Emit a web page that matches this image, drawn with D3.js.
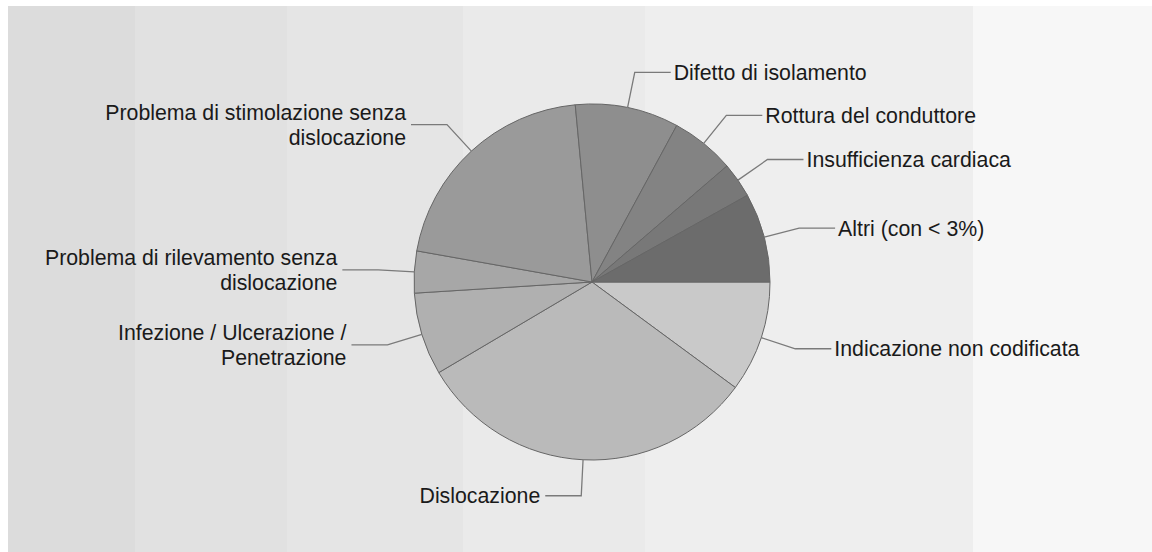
<!DOCTYPE html>
<html>
<head>
<meta charset="utf-8">
<script src="https://cdn.jsdelivr.net/npm/d3@7"></script>
<style>
  html, body { margin: 0; padding: 0; background: #fff; }
  svg { display: block; }
</style>
</head>
<body>
<div id="chart"></div>
<script>
// categories, clockwise from 3 o'clock
const categories = [
  "Indicazione non codificata",
  "Dislocazione",
  "Infezione / Ulcerazione / Penetrazione",
  "Problema di rilevamento senza dislocazione",
  "Problema di stimolazione senza dislocazione",
  "Difetto di isolamento",
  "Rottura del conduttore",
  "Insufficienza cardiaca",
  "Altri (con < 3%)"
];
// percent shares
const values = [10.1, 31.4, 7.5, 3.8, 20.7, 9.4, 5.8, 3.2, 8.1];
// label lines as drawn (wrapped)
const labelLines = [
  ["Indicazione non codificata"],
  ["Dislocazione"],
  ["Infezione / Ulcerazione /", "Penetrazione"],
  ["Problema di rilevamento senza", "dislocazione"],
  ["Problema di stimolazione senza", "dislocazione"],
  ["Difetto di isolamento"],
  ["Rottura del conduttore"],
  ["Insufficienza cardiaca"],
  ["Altri (con < 3%)"]
];
const sliceColors = ["#c9c9c9", "#bababa", "#b0b0b0", "#a7a7a7", "#9a9a9a", "#8e8e8e", "#838383", "#787878", "#6c6c6c"];

// background bands
const bandEdges = [8, 135, 287, 463, 645, 973, 1152];
const bandColors = ["#dcdcdc", "#e1e1e1", "#e5e5e5", "#eaeaea", "#eeeeee", "#f7f7f7"];

const width = 1152, height = 552;
const cx = 592, cy = 282, radius = 178;

const svg = d3.select("#chart").append("svg")
  .attr("width", width)
  .attr("height", height);

svg.append("g")
  .selectAll("rect")
  .data(bandColors)
  .join("rect")
  .attr("x", (d, i) => bandEdges[i])
  .attr("y", 6)
  .attr("width", (d, i) => bandEdges[i + 1] - bandEdges[i])
  .attr("height", height - 6)
  .attr("fill", (d) => d);

const data = categories.map((c, i) => ({ name: c, value: values[i], lines: labelLines[i], color: sliceColors[i] }));

const pie = d3.pie()
  .value((d) => d.value)
  .sort(null)
  .startAngle(Math.PI / 2)
  .endAngle(Math.PI / 2 + 2 * Math.PI);

const arcs = pie(data);
const arc = d3.arc().innerRadius(0).outerRadius(radius);

const g = svg.append("g").attr("transform", `translate(${cx},${cy})`);

g.selectAll("path.slice")
  .data(arcs)
  .join("path")
  .attr("class", "slice")
  .attr("d", arc)
  .attr("fill", (d) => d.data.color)
  .attr("stroke", "#666")
  .attr("stroke-width", 1);

// leader lines + labels
const elbowR = 214, tail = 36, gap = 3, fontSize = 21.3, lineH = 25;

function pt(angle, r) {
  return [Math.sin(angle) * r, -Math.cos(angle) * r];
}

arcs.forEach((d) => {
  const mid = (d.startAngle + d.endAngle) / 2;
  const p0 = pt(mid, radius);
  const p1 = pt(mid, elbowR);
  const right = p1[0] > 0;
  const p2 = [p1[0] + (right ? tail : -tail), p1[1]];

  g.append("polyline")
    .attr("points", [p0, p1, p2].map((p) => p.join(",")).join(" "))
    .attr("fill", "none")
    .attr("stroke", "#7a7a7a")
    .attr("stroke-width", 1.3);

  const n = d.data.lines.length;
  const text = g.append("text")
    .attr("x", p2[0] + (right ? gap : -gap - 2))
    .attr("y", p2[1])
    .attr("text-anchor", right ? "start" : "end")
    .attr("font-family", "Arial, 'Liberation Sans', sans-serif")
    .attr("font-size", fontSize)
    .attr("fill", "#1a1a1a");

  d.data.lines.forEach((line, i) => {
    text.append("tspan")
      .attr("x", p2[0] + (right ? gap : -gap - 2))
      .attr("y", p2[1] + (i - (n - 1) / 2) * lineH)
      .attr("dy", "0.35em")
      .text(line);
  });
});
</script>
</body>
</html>
